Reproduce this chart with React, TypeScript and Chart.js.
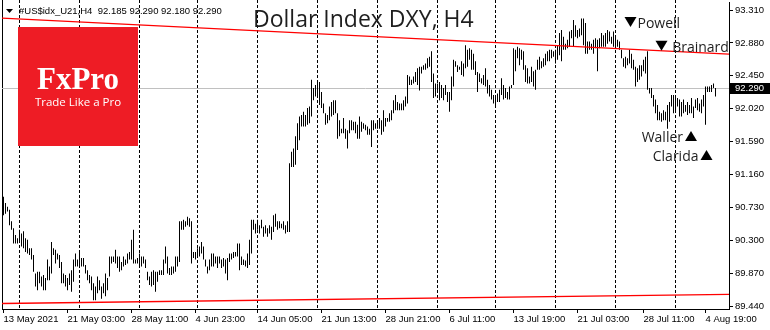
import React, { useEffect, useRef } from "react";
import { Chart, registerables } from "chart.js";

Chart.register(...registerables);

// ---- DATA (H4 bars: high / low) ----
const barHigh = [
  90.87, 90.79, 90.74, 90.70, 90.55, 90.46, 90.37, 90.33, 90.44, 90.39,
  90.42, 90.33, 90.31, 90.20, 90.20, 90.11, 89.87, 89.89, 89.89, 89.83,
  89.85, 89.81, 90.05, 89.96, 90.28, 90.20, 90.18, 90.13, 90.11, 90.02,
  89.87, 89.85, 89.81, 89.87, 89.91, 90.05, 90.13, 90.05, 90.15, 90.07,
  90.07, 89.98, 89.91, 89.85, 89.83, 89.74, 89.70, 89.83, 89.78, 89.70,
  89.74, 89.87, 89.81, 90.09, 90.09, 90.09, 90.18, 90.09, 90.09, 90.02,
  90.09, 90.05, 90.13, 90.15, 90.31, 90.44, 90.05, 90.07, 90.13, 90.09,
  90.09, 90.05, 89.89, 89.83, 89.89, 89.91, 89.89, 89.89, 89.91, 89.91,
  90.05, 90.22, 90.09, 89.94, 89.96, 89.96, 90.09, 90.09, 90.55, 90.55,
  90.57, 90.55, 90.61, 90.59, 90.55, 90.15, 90.15, 90.20, 90.22, 90.28,
  90.22, 90.05, 89.96, 90.05, 90.13, 90.13, 90.09, 90.09, 90.09, 90.05,
  90.07, 90.05, 90.07, 90.13, 90.13, 90.15, 90.15, 90.26, 90.26, 90.09,
  90.05,
  90.04, 90.13, 90.31, 90.57, 90.57, 90.52, 90.57, 90.50, 90.57, 90.48,
  90.50, 90.46, 90.50, 90.48, 90.63, 90.65, 90.55, 90.55, 90.52, 90.55,
  90.50, 90.55, 91.31, 91.46, 91.50, 91.66, 91.83, 91.92, 91.94, 91.98,
  91.94, 92.03, 92.05, 92.40, 92.29, 92.33, 92.37, 92.37, 92.24, 92.09,
  91.96, 91.94, 92.05, 92.11, 92.13, 92.13, 91.96, 91.87, 91.76, 91.90,
  91.76, 91.74, 91.87, 91.87, 91.85, 91.85, 91.81, 91.92, 91.85, 91.83,
  91.81, 91.79, 91.76, 91.87, 91.87, 91.83, 91.87, 91.90, 91.87, 92.00,
  91.90, 91.90, 91.96, 92.00, 92.13, 92.20, 92.11, 92.09, 92.09, 92.13,
  92.18, 92.46, 92.44, 92.40, 92.44, 92.50, 92.55, 92.57, 92.57, 92.59,
  92.61, 92.68, 92.70, 92.77, 92.48, 92.35, 92.35, 92.37, 92.33, 92.29,
  92.33, 92.24, 92.24, 92.44, 92.66, 92.64, 92.59, 92.57, 92.64, 92.61,
  92.85, 92.79, 92.81, 92.79, 92.74, 92.64, 92.50, 92.48, 92.42, 92.46,
  92.55, 92.40, 92.33, 92.27, 92.20, 92.18, 92.22, 92.27, 92.42, 92.33,
  92.29, 92.24, 92.31, 92.33, 92.81, 92.79, 92.83, 92.81, 92.79, 92.77,
  92.59, 92.55, 92.44, 92.57, 92.51, 92.53, 92.66, 92.70, 92.64, 92.68,
  92.74, 92.77, 92.79, 92.79, 92.77, 92.79, 92.85, 93.01, 93.05, 92.96,
  92.87, 92.92, 93.03, 93.05, 93.18, 93.11, 93.05, 93.07, 93.20, 93.20,
  93.14, 92.90, 92.90, 92.87, 92.92, 92.94, 92.92, 92.94, 93.01, 92.98,
  93.01, 93.05, 93.03, 92.96, 93.03, 92.98, 92.92, 92.90, 92.79, 92.68,
  92.70, 92.68, 92.79, 92.74, 92.66, 92.57, 92.55, 92.59, 92.59, 92.66,
  92.70, 92.77, 92.29, 92.29, 92.20, 92.14, 92.07, 91.98, 91.96, 92.00,
  91.98, 92.07, 92.11, 92.20, 92.20, 92.18, 92.16, 92.14, 92.11, 92.14,
  92.07, 92.11, 92.07, 92.16, 92.05, 92.14, 92.16, 92.09, 92.14, 92.20,
  92.31, 92.31, 92.31, 92.33, 92.35, 92.29,
];
const barLow = [
  90.63, 90.65, 90.68, 90.50, 90.44, 90.26, 90.26, 90.26, 90.28, 90.22,
  90.20, 90.15, 90.13, 90.11, 90.05, 89.89, 89.70, 89.65, 89.74, 89.70,
  89.65, 89.65, 89.78, 89.78, 89.87, 90.11, 90.00, 90.05, 89.94, 89.74,
  89.74, 89.70, 89.65, 89.72, 89.63, 89.76, 89.96, 89.96, 89.94, 89.96,
  89.96, 89.87, 89.78, 89.74, 89.65, 89.52, 89.52, 89.61, 89.65, 89.54,
  89.61, 89.57, 89.65, 89.83, 90.00, 90.02, 90.00, 89.94, 89.89, 89.91,
  89.96, 89.98, 90.00, 90.05, 90.05, 90.00, 90.00, 90.00, 89.98, 89.96,
  90.00, 89.94, 89.78, 89.72, 89.70, 89.72, 89.63, 89.76, 89.85, 89.85,
  89.85, 90.00, 89.87, 89.85, 89.85, 89.87, 89.89, 89.96, 90.02, 90.44,
  90.44, 90.48, 90.50, 90.48, 90.00, 90.07, 90.05, 90.07, 90.09, 90.13,
  90.05, 89.96, 89.87, 89.91, 89.96, 89.96, 90.00, 89.94, 90.00, 89.94,
  89.96, 89.87, 89.78, 90.02, 90.05, 90.07, 90.09, 90.09, 89.91, 89.98,
  89.98,
  89.96, 89.94, 89.98, 90.13, 90.44, 90.39, 90.44, 90.39, 90.46, 90.35,
  90.39, 90.35, 90.39, 90.31, 90.41, 90.48, 90.44, 90.46, 90.46, 90.44,
  90.39, 90.41, 90.41, 91.26, 91.26, 91.29, 91.48, 91.61, 91.79, 91.79,
  91.79, 91.81, 91.83, 91.92, 92.13, 92.18, 92.20, 92.07, 92.03, 91.96,
  91.81, 91.83, 91.87, 91.92, 91.94, 91.96, 91.63, 91.66, 91.70, 91.70,
  91.63, 91.50, 91.70, 91.74, 91.74, 91.70, 91.63, 91.63, 91.72, 91.76,
  91.74, 91.68, 91.68, 91.52, 91.74, 91.76, 91.76, 91.76, 91.68, 91.72,
  91.79, 91.85, 91.85, 91.87, 91.96, 92.00, 92.00, 92.00, 92.00, 92.00,
  92.05, 92.09, 92.33, 92.33, 92.35, 92.37, 92.33, 92.26, 92.48, 92.53,
  92.53, 92.55, 92.57, 92.37, 92.16, 92.18, 92.24, 92.13, 92.16, 92.13,
  92.20, 92.11, 91.98, 92.13, 92.31, 92.57, 92.50, 92.53, 92.46, 92.44,
  92.55, 92.57, 92.66, 92.53, 92.53, 92.46, 92.24, 92.37, 92.35, 92.33,
  92.31, 92.22, 92.18, 92.14, 92.09, 92.05, 92.11, 92.11, 92.20, 92.14,
  92.16, 92.14, 92.14, 92.29, 92.33, 92.51, 92.68, 92.59, 92.66, 92.53,
  92.37, 92.35, 92.35, 92.37, 92.31, 92.27, 92.53, 92.53, 92.55, 92.57,
  92.59, 92.64, 92.64, 92.68, 92.70, 92.61, 92.66, 92.72, 92.64, 92.79,
  92.79, 92.81, 92.83, 92.94, 92.83, 92.96, 92.94, 92.96, 92.98, 92.85,
  92.74, 92.74, 92.79, 92.79, 92.74, 92.81, 92.51, 92.81, 92.83, 92.83,
  92.83, 92.87, 92.90, 92.87, 92.83, 92.85, 92.83, 92.79, 92.68, 92.57,
  92.55, 92.59, 92.61, 92.55, 92.53, 92.31, 92.37, 92.40, 92.44, 92.51,
  92.48, 92.27, 92.22, 92.16, 92.05, 91.96, 91.87, 91.87, 91.85, 91.87,
  91.87, 91.76, 91.85, 92.05, 91.96, 92.00, 92.05, 91.92, 91.92, 91.96,
  91.98, 91.94, 91.96, 91.96, 91.90, 92.03, 92.00, 91.98, 91.96, 92.05,
  91.81, 92.24, 92.24, 92.24, 92.29, 92.18,
];

const yTicks = [89.44, 89.87, 90.3, 90.73, 91.16, 91.59, 92.02, 92.45, 92.88, 93.31];
const xTickIdx = [0, 32, 64, 96, 127, 159, 191, 223, 255, 287, 320, 351];
const xTickLabels = [
  "13 May 2021", "21 May 03:00", "28 May 11:00", "4 Jun 23:00", "14 Jun 05:00", "21 Jun 13:00",
  "28 Jun 21:00", "6 Jul 11:00", "13 Jul 19:00", "21 Jul 03:00", "28 Jul 11:00", "4 Aug 19:00",
];
const gridIdx = [8, 38, 68, 97, 127, 157, 187, 217, 246, 276, 306, 336];

const upperTrendPrice = [93.204, 92.735];
const lowerTrendPrice = [89.477, 89.597];
const bidPrice = 92.29;

const annLabels = ["Powell", " Brainard", "Waller", "Clarida"];
const annIdx = [313.5, 329, 343.75, 351.5];
const annPrice = [93.153, 92.844, 91.664, 91.416];
const annDir = ["down", "down", "up", "up"];

const headerText = "#US$idx_U21,H4  92.185 92.290 92.180 92.290";
const titleText = "Dollar Index DXY, H4";
const bidLabel = "92.290";

const yMin = 89.405;
const yMax = 93.4145;
const xMin = -0.75;
const xMax = 362.75;

const AXIS_FONT = '"Liberation Sans", Arial, sans-serif';
const TEXT_FONT = '"Open Sans", "Noto Sans", sans-serif';

const overlayPlugin: any = {
  id: "overlay",
  beforeDatasetsDraw(chart: any) {
    const { ctx, chartArea: a, scales } = chart;
    const x = scales.x;
    const y = scales.y;
    ctx.save();
    // dashed vertical grid
    ctx.strokeStyle = "#000";
    ctx.lineWidth = 1;
    ctx.setLineDash([3, 2]);
    gridIdx.forEach((v) => {
      const px = Math.floor(x.getPixelForValue(v)) + 0.5;
      ctx.beginPath();
      ctx.moveTo(px, 0);
      ctx.lineTo(px, a.bottom);
      ctx.stroke();
    });
    ctx.setLineDash([]);
    // left frame
    ctx.beginPath();
    ctx.moveTo(a.left + 0.5, 0);
    ctx.lineTo(a.left + 0.5, a.bottom);
    ctx.stroke();
    // bid line
    const by = Math.floor(y.getPixelForValue(bidPrice)) + 0.5;
    ctx.strokeStyle = "#c0c0c0";
    ctx.beginPath();
    ctx.moveTo(a.left, by);
    ctx.lineTo(a.right, by);
    ctx.stroke();
    ctx.restore();
  },
  afterDatasetsDraw(chart: any) {
    const { ctx, chartArea: a, scales } = chart;
    const x = scales.x;
    const y = scales.y;
    ctx.save();
    // logo
    ctx.fillStyle = "#ee1c25";
    ctx.fillRect(a.left + 16, a.top + 25, 120, 119);
    ctx.fillStyle = "#ffffff";
    ctx.textAlign = "center";
    ctx.textBaseline = "alphabetic";
    ctx.font = 'bold 31px "Liberation Serif", "DejaVu Serif", serif';
    ctx.fillText("FxPro", a.left + 76, a.top + 87);
    ctx.font = `11.5px ${TEXT_FONT}`;
    ctx.fillText("Trade Like a Pro", a.left + 76, a.top + 104);

    // header
    ctx.fillStyle = "#000";
    ctx.beginPath();
    ctx.moveTo(a.left + 4, a.top + 7);
    ctx.lineTo(a.left + 11, a.top + 7);
    ctx.lineTo(a.left + 7.5, a.top + 11);
    ctx.closePath();
    ctx.fill();
    ctx.textAlign = "left";
    ctx.textBaseline = "middle";
    ctx.font = `9.5px ${AXIS_FONT}`;
    ctx.fillText(headerText, a.left + 17, a.top + 9);

    // title
    ctx.fillStyle = "#1e1e1e";
    ctx.textBaseline = "alphabetic";
    ctx.font = `23px ${TEXT_FONT}`;
    ctx.fillText(titleText, a.left + 251, a.top + 25);

    // annotations (clipped to plot)
    ctx.save();
    ctx.beginPath();
    ctx.rect(a.left, 0, a.right - a.left, a.bottom);
    ctx.clip();
    ctx.font = `14px ${TEXT_FONT}`;
    annLabels.forEach((label, i) => {
      const cx = x.getPixelForValue(annIdx[i]);
      const cy = y.getPixelForValue(annPrice[i]);
      ctx.fillStyle = "#000";
      ctx.beginPath();
      if (annDir[i] === "down") {
        ctx.moveTo(cx - 6, cy - 5);
        ctx.lineTo(cx + 6, cy - 5);
        ctx.lineTo(cx, cy + 5);
      } else {
        ctx.moveTo(cx - 6, cy + 5);
        ctx.lineTo(cx + 6, cy + 5);
        ctx.lineTo(cx, cy - 5);
      }
      ctx.closePath();
      ctx.fill();
      ctx.fillStyle = "#1e1e1e";
      if (annDir[i] === "down") {
        ctx.textAlign = "left";
        ctx.fillText(label, cx + 7, cy + 6);
      } else {
        ctx.textAlign = "right";
        ctx.fillText(label, cx - 8, cy + 5.5);
      }
    });
    ctx.restore();

    // bid price box on axis
    const by = y.getPixelForValue(bidPrice);
    ctx.fillStyle = "#000";
    ctx.fillRect(a.right + 1, Math.round(by) - 5, 41, 11);
    ctx.fillStyle = "#fff";
    ctx.textAlign = "left";
    ctx.textBaseline = "middle";
    ctx.font = `9.5px ${AXIS_FONT}`;
    ctx.fillText(bidLabel, a.right + 6, Math.round(by) + 0.5);
    ctx.restore();
  },
};

export default function App() {
  const ref = useRef<HTMLCanvasElement>(null);

  useEffect(() => {
    const canvas = ref.current;
    if (!canvas) return;
    const bars = barHigh.map((h, i) => ({ x: i, y: [barLow[i], h] }));
    const chart = new Chart(canvas, {
      type: "bar",
      data: {
        datasets: [
          {
            type: "line",
            data: [
              { x: xMin, y: upperTrendPrice[0] },
              { x: xMax, y: upperTrendPrice[1] },
            ],
            borderColor: "#ff0000",
            borderWidth: 1.3,
            pointRadius: 0,
            order: 0,
          } as any,
          {
            type: "line",
            data: [
              { x: xMin, y: lowerTrendPrice[0] },
              { x: xMax, y: lowerTrendPrice[1] },
            ],
            borderColor: "#ff0000",
            borderWidth: 1.3,
            pointRadius: 0,
            order: 1,
          } as any,
          {
            type: "bar",
            data: bars as any,
            backgroundColor: "#000",
            borderWidth: 0,
            barThickness: 1,
            grouped: false,
            inflateAmount: 0,
            order: 3,
          } as any,
        ],
      },
      options: {
        responsive: false,
        animation: false,
        devicePixelRatio: 1,
        events: [],
        layout: { padding: { left: 2, top: 2, right: 0, bottom: 0 } },
        plugins: {
          legend: { display: false },
          tooltip: { enabled: false },
          title: { display: false },
        },
        scales: {
          x: {
            type: "linear",
            min: xMin,
            max: xMax,
            offset: false,
            afterBuildTicks: (s: any) => {
              s.ticks = xTickIdx.map((v) => ({ value: v }));
            },
            afterFit: (s: any) => {
              s.height = 21;
              s.paddingLeft = 0;
              s.paddingRight = 0;
              s.paddingTop = 0;
              s.paddingBottom = 0;
            },
            ticks: {
              autoSkip: false,
              maxRotation: 0,
              minRotation: 0,
              align: "start",
              padding: 1,
              color: "#000",
              font: { family: AXIS_FONT, size: 9.5 },
              callback: (_v: any, i: number) => xTickLabels[i],
            },
            grid: {
              drawOnChartArea: false,
              drawTicks: true,
              tickLength: 4,
              color: "#000",
              offset: false,
            },
            border: { display: true, color: "#000", width: 1 },
          } as any,
          y: {
            type: "linear",
            position: "right",
            min: yMin,
            max: yMax,
            beginAtZero: false,
            afterBuildTicks: (s: any) => {
              s.ticks = yTicks.map((v) => ({ value: v }));
            },
            afterFit: (s: any) => {
              s.width = 41;
              s.paddingTop = 0;
              s.paddingBottom = 0;
              s.paddingLeft = 0;
              s.paddingRight = 0;
            },
            ticks: {
              autoSkip: false,
              padding: 2,
              color: "#000",
              font: { family: AXIS_FONT, size: 9.5 },
              callback: (v: any) => Number(v).toFixed(3),
            },
            grid: {
              drawOnChartArea: false,
              drawTicks: true,
              tickLength: 4,
              color: "#000",
            },
            border: { display: true, color: "#000", width: 1 },
          } as any,
        },
      },
      plugins: [overlayPlugin],
    } as any);
    return () => chart.destroy();
  }, []);

  return (
    <div
      style={{
        position: "fixed",
        left: 0,
        top: 0,
        width: 770,
        height: 330,
        background: "#fff",
      }}
    >
      <canvas ref={ref} width={770} height={330} style={{ display: "block", width: 770, height: 330 }} />
    </div>
  );
}
